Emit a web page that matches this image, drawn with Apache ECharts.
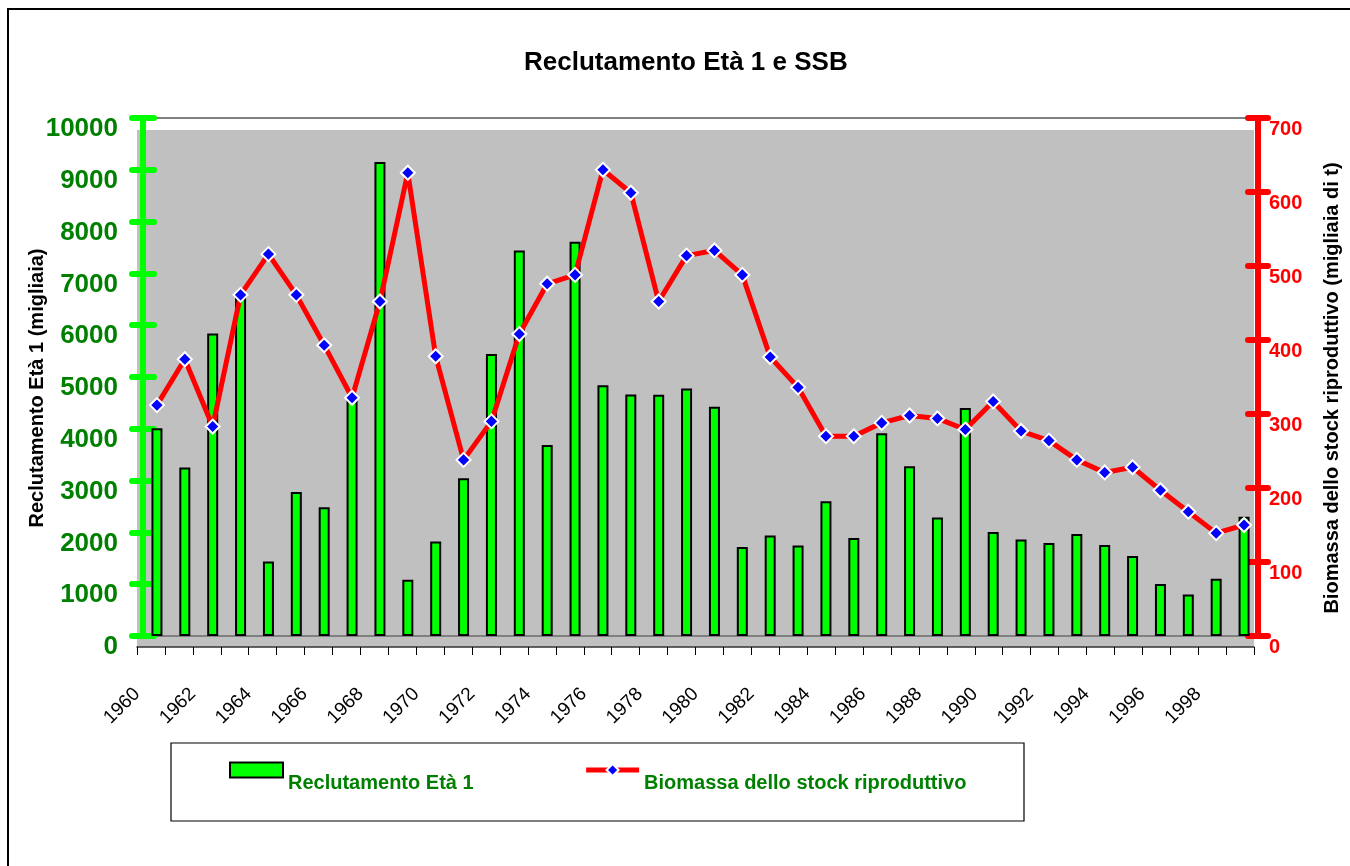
<!DOCTYPE html>
<html>
<head>
<meta charset="utf-8">
<script src="https://cdn.jsdelivr.net/npm/echarts@6/dist/echarts.min.js"></script>
<style>html,body{margin:0;padding:0;background:#fff}#chart{width:1350px;height:866px}</style>
</head>
<body>
<div id="chart"></div>
<script>
const years = ['1960','1961','1962','1963','1964','1965','1966','1967','1968','1969',
  '1970','1971','1972','1973','1974','1975','1976','1977','1978','1979',
  '1980','1981','1982','1983','1984','1985','1986','1987','1988','1989',
  '1990','1991','1992','1993','1994','1995','1996','1997','1998','1999'];
const recruitment = [4010, 3255, 5840, 6540, 1440, 2780, 2485, 4610, 9150, 1085,
  1825, 3045, 5445, 7440, 3685, 7610, 4840, 4660, 4655, 4780,
  4425, 1720, 1940, 1745, 2600, 1890, 3915, 3275, 2290, 4400,
  2010, 1865, 1795, 1970, 1757, 1545, 1005, 800, 1107, 2300];
const ssb = [312, 374, 283, 461, 516, 461, 393, 322, 452, 626,
  378, 238, 290, 408, 476, 488, 630, 599, 452, 514,
  521, 488, 377, 336, 270, 270, 288, 298, 294, 279,
  317, 277, 264, 238, 221, 228, 197, 168, 139, 150];
const xTickLabels = [1960, 1962, 1964, 1966, 1968, 1970, 1972, 1974, 1976, 1978,
  1980, 1982, 1984, 1986, 1988, 1990, 1992, 1994, 1996, 1998];
const leftAxis = {min: 0, max: 10000, step: 1000};
const rightAxis = {min: 0, max: 700, step: 100};
const titleText = 'Reclutamento Età 1 e SSB';
const leftName = 'Reclutamento Età 1 (migliaia)';
const rightName = 'Biomassa dello stock riproduttivo (migliaia di t)';
const barName = 'Reclutamento Età 1';
const lineName = 'Biomassa dello stock riproduttivo';

const FONT = '"Liberation Sans", Arial, sans-serif';
const chart = echarts.init(document.getElementById('chart'), null, {renderer: 'canvas'});

const option = {
  backgroundColor: '#ffffff',
  animation: false,
  textStyle: {fontFamily: FONT},
  title: {
    text: titleText,
    left: 524,
    top: 50,
    padding: 0,
    textStyle: {fontFamily: FONT, fontSize: 26, fontWeight: 'bold', color: '#000'}
  },
  graphic: [
    {type: 'rect', z: -10, shape: {x: 8, y: 9, width: 1400, height: 900},
     style: {fill: 'none', stroke: '#000', lineWidth: 2}},
    {type: 'rect', z: -10, shape: {x: 171, y: 743, width: 853, height: 78},
     style: {fill: '#fff', stroke: '#000', lineWidth: 1.2}}
  ],
  legend: {
    left: 224,
    top: 739,
    itemWidth: 53,
    itemHeight: 15,
    itemGap: 110,
    data: [{name: barName, icon: 'rect'}, {name: lineName}],
    lineStyle: {width: 5},
    formatter: name => '\n' + name,
    textStyle: {fontFamily: FONT, color: '#008000', fontSize: 20, fontWeight: 'bold', lineHeight: 26}
  },
  grid: [
    {left: 137, top: 130, width: 1117, height: 517, show: true,
     backgroundColor: '#c0c0c0', borderWidth: 0},
    {left: 143, top: 118, width: 1117, height: 518, show: true,
     backgroundColor: 'transparent', borderColor: '#808080', borderWidth: 2}
  ],
  xAxis: [
    {type: 'value', gridIndex: 0, min: 1960, max: 2000, interval: 1,
     axisLine: {show: true, lineStyle: {color: '#333', width: 1.5}},
     axisTick: {show: true, length: 8, lineStyle: {color: '#000', width: 1}},
     splitLine: {show: false},
     axisLabel: {rotate: 45, margin: 44, fontSize: 19, color: '#000', fontFamily: FONT,
       formatter: v => xTickLabels.indexOf(v) >= 0 ? String(v) : ''}},
    {type: 'category', gridIndex: 1, data: years, boundaryGap: true, show: false}
  ],
  yAxis: [
    {type: 'value', gridIndex: 0, show: false, min: 0, max: 1},
    {type: 'value', gridIndex: 1, position: 'left', min: leftAxis.min, max: leftAxis.max, interval: leftAxis.step,
     axisLine: {show: true, lineStyle: {color: '#00ff00', width: 6}},
     axisTick: {show: true, length: 11, lineStyle: {color: '#00ff00', width: 6, cap: 'round'}},
     splitLine: {show: false},
     axisLabel: {color: '#008000', fontSize: 26, fontWeight: 'bold', fontFamily: FONT, margin: 25,
       verticalAlign: 'top', lineHeight: 22, formatter: v => String(v)},
     name: leftName, nameLocation: 'middle', nameRotate: 90, nameGap: 96, nameMoveOverlap: false,
     nameTextStyle: {fontFamily: FONT, fontSize: 20, fontWeight: 'bold', color: '#000', padding: [0, 22, 0, 0]}},
    {type: 'value', gridIndex: 1, position: 'right', min: rightAxis.min, max: rightAxis.max, interval: rightAxis.step,
     axisLine: {show: true, lineStyle: {color: '#ff0000', width: 6}},
     axisTick: {show: true, length: 10, lineStyle: {color: '#ff0000', width: 6, cap: 'round'}},
     splitLine: {show: false},
     axisLabel: {color: '#ff0000', fontSize: 20, fontWeight: 'bold', fontFamily: FONT, margin: 11,
       verticalAlign: 'top', lineHeight: 22, formatter: v => String(v)},
     name: rightName, nameLocation: 'middle', nameRotate: 90, nameGap: 64,
     nameTextStyle: {fontFamily: FONT, fontSize: 20, fontWeight: 'bold', color: '#000', padding: [0, 22, 0, 0]}},
    {type: 'value', gridIndex: 1, position: 'left', min: leftAxis.min, max: leftAxis.max, interval: leftAxis.step,
     axisLine: {show: false}, axisLabel: {show: false}, splitLine: {show: false},
     axisTick: {show: true, inside: true, length: 11, lineStyle: {color: '#00ff00', width: 6, cap: 'round'}}},
    {type: 'value', gridIndex: 1, position: 'right', min: rightAxis.min, max: rightAxis.max, interval: rightAxis.step,
     axisLine: {show: false}, axisLabel: {show: false}, splitLine: {show: false},
     axisTick: {show: true, inside: true, length: 10, lineStyle: {color: '#ff0000', width: 6, cap: 'round'}}}
  ],
  series: [
    {name: barName, type: 'bar', xAxisIndex: 1, yAxisIndex: 1, data: recruitment,
     barWidth: 11,
     itemStyle: {color: '#00ff00', borderColor: '#000', borderWidth: 2}},
    {name: lineName, type: 'line', xAxisIndex: 1, yAxisIndex: 2, data: ssb,
     z: 5,
     symbol: 'diamond', symbolSize: 14,
     lineStyle: {color: '#ff0000', width: 5},
     itemStyle: {color: '#0000ff', borderColor: '#ffffff', borderWidth: 2}}
  ]
};
chart.setOption(option);
</script>
</body>
</html>
